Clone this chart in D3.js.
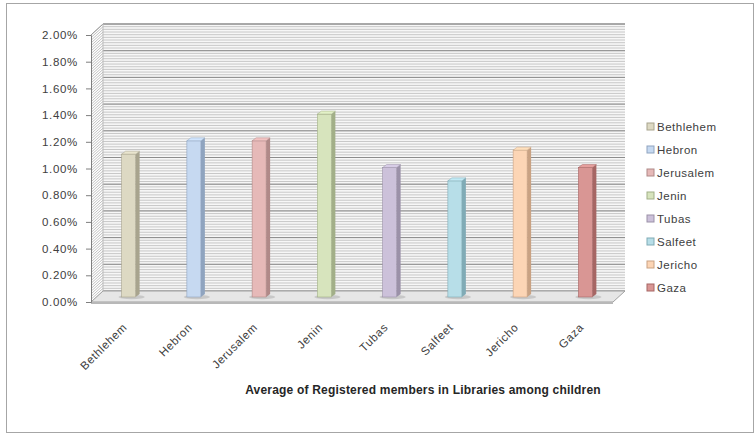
<!DOCTYPE html>
<html><head><meta charset="utf-8">
<script src="https://cdn.jsdelivr.net/npm/d3@7"></script>
<style>
html,body{margin:0;padding:0;background:#fff;}
text{font-family:"Liberation Sans",Arial,sans-serif;}
</style></head>
<body><svg id="chart" width="756" height="435"></svg>
<script>
const categories = ["Bethlehem","Hebron","Jerusalem","Jenin","Tubas","Salfeet","Jericho","Gaza"];
const values = [0.011, 0.012, 0.012, 0.014, 0.010, 0.009, 0.0113, 0.010];
const colors = ["#DDD9C3","#C6D9F1","#E6B9B8","#D7E4BD","#CCC1DA","#B7DEE8","#FCD5B5","#D99694"];
const sideColors = ["#A8A48E","#8FA4BF","#B08988","#A2AF88","#9B91A8","#80ABB6","#C9A283","#A66664"];
const yTicks = [0,0.002,0.004,0.006,0.008,0.010,0.012,0.014,0.016,0.018,0.020];
const minorTicks = d3.range(0, 101).map(i => i * 0.0002);
const xTitle = "Average of Registered members in Libraries among children";

const svg = d3.select("#chart");
const W = 756, H = 435;
const pL = 91, pR = 613, pB = 302, pT = 35;
const DX = 12, DY = -11;

svg.append("rect").attr("x",6.5).attr("y",3.5).attr("width",W-9).attr("height",H-6)
  .attr("fill","#fff").attr("stroke","#a6a6a6");

const x = d3.scaleBand().domain(categories).range([pL, pR]).paddingInner(0).paddingOuter(0);
const y = d3.scaleLinear().domain([0, 0.02]).range([pB, pT]);

// back wall
const wall = svg.append("g");
wall.append("rect").attr("x", pL+DX).attr("y", pT+DY).attr("width", pR-pL).attr("height", pB-pT).attr("fill","#f7f7f7");
wall.selectAll("line.minor").data(minorTicks).join("line").attr("class","minor")
  .attr("x1", pL+DX).attr("x2", pR+DX)
  .attr("y1", d => y(d)+DY).attr("y2", d => y(d)+DY)
  .attr("stroke", "#c2c2c2").attr("stroke-width", 0.9);
wall.selectAll("line.major").data(yTicks).join("line").attr("class","major")
  .attr("x1", pL+DX).attr("x2", pR+DX)
  .attr("y1", d => y(d)+DY).attr("y2", d => y(d)+DY)
  .attr("stroke", "#8c8c8c").attr("stroke-width", 1);
// side wall hatch
wall.selectAll("line.side").data(minorTicks).join("line").attr("class","side")
  .attr("x1", pL).attr("x2", pL+DX)
  .attr("y1", d => y(d)).attr("y2", d => y(d)+DY)
  .attr("stroke", "#b0b0b0").attr("stroke-width", 0.8);
wall.append("line").attr("x1",pL+DX).attr("x2",pR+DX).attr("y1",pT+DY).attr("y2",pT+DY).attr("stroke","#9a9a9a");
wall.append("line").attr("x1",pL).attr("x2",pL+DX).attr("y1",pT).attr("y2",pT+DY).attr("stroke","#9a9a9a");
wall.append("line").attr("x1",pL+DX).attr("x2",pL+DX).attr("y1",pT+DY).attr("y2",pB+DY).attr("stroke","#bbb");

// floor
svg.append("path")
  .attr("d", `M${pL},${pB} L${pR},${pB} L${pR+DX},${pB+DY} L${pL+DX},${pB+DY} Z`)
  .attr("fill","#e6e6e6").attr("stroke","#a0a0a0");
svg.append("line").attr("x1",pL).attr("x2",pR).attr("y1",pB+1).attr("y2",pB+1).attr("stroke","#b8b8b8").attr("stroke-width",2);

// y axis
const yAxis = d3.axisLeft(y).tickValues(yTicks).tickFormat(d3.format(".2%")).tickSize(5).tickPadding(8);
const ya = svg.append("g").attr("transform",`translate(${pL},0)`).call(yAxis);
ya.select(".domain").attr("stroke","#7f7f7f");
ya.selectAll(".tick line").attr("stroke","#7f7f7f");
ya.selectAll(".tick text").attr("fill","#404040").attr("font-size","11.5px").style("letter-spacing","0.7px");

// bars
const bw = 14, bd = 4, bdy = 3, off = 6;
const bars = svg.append("g");
categories.forEach((c, i) => {
  const cx = x(c) + x.bandwidth()/2 + off;
  const x0 = cx - bw/2 - 1;
  const yb = 297, yt = y(values[i]) - 1;
  bars.append("ellipse").attr("cx", cx+2).attr("cy", yb).attr("rx", 13).attr("ry", 2.2).attr("fill","#c8c8c8");
  bars.append("path").attr("d", `M${x0+bw},${yt} L${x0+bw+bd},${yt-bdy} L${x0+bw+bd},${yb-bdy} L${x0+bw},${yb} Z`)
    .attr("fill", sideColors[i]);
  bars.append("rect").attr("x", x0).attr("y", yt).attr("width", bw).attr("height", yb-yt)
    .attr("fill", colors[i]).attr("stroke", sideColors[i]).attr("stroke-width", 0.6);
  bars.append("path").attr("d", `M${x0},${yt} L${x0+bw},${yt} L${x0+bw+bd},${yt-bdy} L${x0+bd},${yt-bdy} Z`)
    .attr("fill", d3.color(colors[i]).brighter(0.15)).attr("stroke", sideColors[i]).attr("stroke-width", 0.5);
});

// x labels
const xl = svg.append("g");
categories.forEach(c => {
  const px = x(c) + x.bandwidth()/2 + 4, py = 328;
  xl.append("text").attr("transform",`translate(${px},${py}) rotate(-45)`)
    .attr("text-anchor","end").attr("font-size","11.5px").attr("fill","#404040")
    .style("letter-spacing","0.6px").text(c);
});

// x title
svg.append("text").attr("x", 423).attr("y", 394).attr("text-anchor","middle")
  .attr("font-size","12px").attr("font-weight","bold").attr("fill","#262626")
  .style("letter-spacing","0.2px").text(xTitle);

// legend
const lg = svg.append("g");
categories.forEach((c, i) => {
  const ly = 127 + i*23;
  lg.append("rect").attr("x", 647).attr("y", ly-4).attr("width", 7).attr("height", 7)
    .attr("fill", colors[i]).attr("stroke", sideColors[i]);
  lg.append("text").attr("x", 657).attr("y", ly+4).attr("font-size","11.5px").attr("fill","#404040")
    .style("letter-spacing","0.5px").text(c);
});
</script></body></html>
